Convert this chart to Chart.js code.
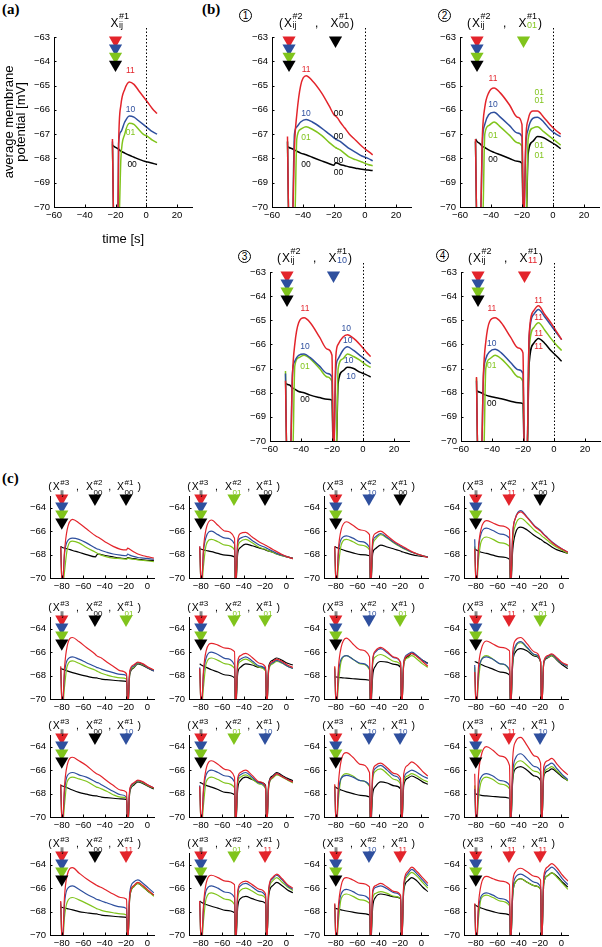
<!DOCTYPE html>
<html>
<head>
<meta charset="utf-8">
<script src="https://cdn.jsdelivr.net/npm/chart.js@4.4.1/dist/chart.umd.min.js"></script>
<style>
  body { margin: 0; width: 602px; height: 947px; position: relative; overflow: hidden; background: #fff; }
  canvas { position: absolute; }
  .pl { position: absolute; font: bold 15px "Liberation Serif", serif; line-height: 15px; }
  .cn { position: absolute; box-sizing: border-box; width: 13px; height: 13px; border: 1px solid #000; border-radius: 50%;
        font: 10px "Liberation Sans", Arial, sans-serif; line-height: 11px; text-align: center; color: #000; }
</style>
</head>
<body>
<div class="pl" style="left:2px;top:2px">(a)</div>
<div class="pl" style="left:202px;top:2px">(b)</div>
<div class="pl" style="left:2px;top:471px">(c)</div>
<div class="cn" style="left:239px;top:9px">1</div>
<div class="cn" style="left:438px;top:9px">2</div>
<div class="cn" style="left:238px;top:250px">3</div>
<div class="cn" style="left:436px;top:249px">4</div>
<script>
const FONT = '"Liberation Sans", Arial, sans-serif'
const ORDER = ["11", "10", "01", "00"]
const COL = { "11": "#e3242b", "10": "#2e4f9e", "01": "#80c41c", "00": "#000000" }

// tick labels
const xTicksAB = [-60, -40, -20, 0, 20]
const yTicksAB = [-70, -69, -68, -67, -66, -65, -64, -63]
const xTicksC = [-80, -60, -40, -20, 0]
const yTicksC = [-70, -68, -66, -64]

// time grids (s)
const tA = [-22, -21, -18.5, -18, -16.5, -14, -11, -8, -5, -2, 1, 4, 7]
const tB = [-50, -49, -47, -45.5, -44, -41.5, -38, -34, -28, -23, -20, -19, -17.5, -16, -13, -10, -6, -2, 2, 5]
const tC = [-81, -79.5, -77.5, -75, -70, -64, -57, -48.5, -47.5, -45.5, -43, -38, -32, -25, -19.5, -18.5, -16.5, -13, -9, -4, 1, 6]

// stimulus times
const stimA = [-20]
const stimB = [-49, -19]
const stimC = [-80, -49, -20]
const bCodes1 = ["00", "01", "10", "11"]   // X#1 in b1..b4
const cCodes2 = ["00", "01", "10", "11"]   // X#2 per column of (c)
const cCodes1 = ["00", "01", "10", "11"]   // X#1 per row of (c)

// marker heights (mV)
const stackYab = [-63.14, -63.47, -63.8, -64.13]
const stackYc = [-63.2, -63.88, -64.56, -65.24]

// series order in every panel: 11 (red), 10 (blue), 01 (green), 00 (black)
const a = [
  [-67.2, -71, -71, -67.5, -65.8, -65.15, -64.85, -64.95, -65.2, -65.45, -65.7, -65.95, -66.15],
  [-67.3, -71, -71, -67.4, -66.9, -66.5, -66.25, -66.3, -66.45, -66.6, -66.75, -66.9, -67.0],
  [-67.4, -71, -71, -71, -68.0, -67.0, -66.55, -66.6, -66.8, -67.0, -67.1, -67.25, -67.35],
  [-67.45, -67.5, -67.6, -67.62, -67.7, -67.78, -67.87, -67.95, -68.03, -68.1, -68.15, -68.2, -68.25],
]

const b1 = [
  [-67.1, -71, -71, -67.5, -66.2, -65.0, -64.6, -64.8, -65.3, -65.85, -66.2, -66.25, -66.35, -66.5, -66.75, -67.0, -67.25, -67.5, -67.7, -67.85],
  [-67.3, -71, -71, -67.0, -66.7, -66.5, -66.4, -66.5, -66.75, -67.0, -67.15, -67.2, -67.25, -67.3, -67.45, -67.6, -67.75, -67.9, -68.0, -68.1],
  [-67.3, -71, -71, -71, -67.2, -66.8, -66.7, -66.8, -67.05, -67.35, -67.5, -67.55, -67.6, -67.65, -67.8, -67.95, -68.05, -68.15, -68.25, -68.3],
  [-67.5, -67.55, -67.6, -67.65, -67.7, -67.78, -67.85, -67.95, -68.1, -68.22, -68.28, -68.18, -68.2, -68.25, -68.3, -68.35, -68.4, -68.45, -68.48, -68.5],
]
const b2 = [
  [-67.2, -71, -71, -67.0, -65.9, -65.3, -65.1, -65.3, -65.8, -66.3, -66.6, -71, -67.2, -66.4, -66.05, -66.05, -66.3, -66.6, -66.85, -67.0],
  [-67.3, -71, -71, -67.3, -66.6, -66.2, -66.1, -66.3, -66.65, -66.95, -67.1, -71, -67.5, -66.8, -66.35, -66.3, -66.5, -66.8, -67.0, -67.1],
  [-67.3, -71, -71, -71, -67.0, -66.65, -66.5, -66.7, -67.05, -67.35, -67.5, -71, -71, -67.2, -66.75, -66.7, -66.9, -67.1, -67.3, -67.45],
  [-67.2, -67.3, -67.4, -67.5, -67.55, -67.65, -67.75, -67.85, -68.0, -68.12, -68.2, -71, -71, -67.8, -67.3, -67.1, -67.15, -67.3, -67.45, -67.6],
]
const b3 = [
  [-67.5, -71, -71, -67.3, -66.0, -65.1, -64.9, -65.1, -65.7, -66.2, -66.45, -71, -66.5, -66.0, -65.7, -65.6, -65.75, -66.0, -66.3, -66.5],
  [-67.2, -71, -71, -67.2, -66.7, -66.45, -66.4, -66.55, -66.9, -67.2, -67.35, -71, -67.0, -66.6, -66.25, -66.1, -66.25, -66.45, -66.65, -66.8],
  [-67.1, -71, -71, -71, -66.9, -66.55, -66.45, -66.6, -67.0, -67.35, -67.55, -71, -71, -67.0, -66.6, -66.4, -66.5, -66.65, -66.85, -66.95],
  [-67.6, -67.65, -67.7, -67.8, -67.85, -67.95, -68.0, -68.1, -68.2, -68.27, -68.3, -71, -71, -67.6, -67.1, -66.95, -67.0, -67.15, -67.25, -67.35],
]
const b4 = [
  [-67.35, -71, -71, -67.2, -65.9, -65.05, -64.9, -65.1, -65.7, -66.15, -66.35, -71, -71, -65.6, -64.6, -64.4, -64.75, -65.1, -65.5, -65.8],
  [-67.5, -71, -71, -67.3, -66.6, -66.3, -66.2, -66.35, -66.75, -67.05, -67.2, -71, -71, -65.7, -64.75, -64.55, -64.85, -65.2, -65.55, -65.8],
  [-67.4, -71, -71, -71, -67.0, -66.6, -66.45, -66.6, -67.0, -67.35, -67.55, -71, -71, -66.2, -65.3, -65.1, -65.4, -65.75, -66.05, -66.25],
  [-67.9, -67.95, -68.0, -68.05, -68.1, -68.15, -68.2, -68.25, -68.35, -68.42, -68.45, -71, -71, -66.8, -65.95, -65.75, -65.95, -66.25, -66.5, -66.7],
]

const c11 = [
  [-67.3, -71, -67.8, -65.9, -65.0, -65.3, -65.8, -66.4, -66.45, -66.55, -66.7, -67.0, -67.3, -67.55, -67.6, -67.45, -67.55, -67.75, -67.95, -68.1, -68.2, -68.3],
  [-67.3, -71, -68.0, -66.9, -66.6, -66.7, -67.0, -67.45, -67.5, -67.55, -67.65, -67.8, -67.95, -68.05, -68.1, -67.95, -68.05, -68.15, -68.25, -68.3, -68.35, -68.4],
  [-67.4, -71, -69.5, -67.6, -66.85, -67.0, -67.4, -67.8, -67.85, -67.95, -68.05, -68.2, -68.3, -68.35, -68.4, -68.3, -68.35, -68.4, -68.45, -68.5, -68.55, -68.6],
  [-67.3, -67.4, -67.45, -67.5, -67.65, -67.8, -68.0, -68.2, -68.05, -67.95, -68.0, -68.1, -68.2, -68.3, -68.35, -68.25, -68.3, -68.35, -68.4, -68.45, -68.5, -68.5],
]
const c12 = [
  [-67.3, -71, -67.5, -65.8, -65.05, -65.5, -66.0, -66.6, -71, -66.8, -66.2, -66.1, -66.5, -66.95, -67.2, -67.25, -67.35, -67.55, -67.75, -68.0, -68.2, -68.35],
  [-67.3, -71, -67.8, -66.5, -66.0, -66.3, -66.6, -67.1, -71, -67.0, -66.6, -66.45, -66.8, -67.2, -67.4, -67.45, -67.55, -67.7, -67.9, -68.05, -68.2, -68.35],
  [-67.4, -71, -69.0, -67.2, -66.7, -66.9, -67.2, -67.6, -71, -67.5, -66.9, -66.7, -67.0, -67.4, -67.55, -67.6, -67.7, -67.8, -67.95, -68.1, -68.2, -68.35],
  [-67.5, -67.55, -67.6, -67.65, -67.75, -67.9, -68.05, -68.2, -71, -67.9, -67.4, -67.1, -67.25, -67.45, -67.6, -67.65, -67.7, -67.8, -67.95, -68.1, -68.2, -68.3],
]
const c13 = [
  [-67.3, -71, -67.5, -65.9, -65.2, -65.5, -65.9, -66.3, -71, -66.7, -66.2, -66.0, -66.4, -66.9, -67.2, -67.25, -67.35, -67.55, -67.75, -67.95, -68.1, -68.25],
  [-67.4, -71, -67.9, -66.7, -66.4, -66.6, -66.9, -67.4, -71, -67.0, -66.5, -66.2, -66.55, -67.0, -67.3, -67.35, -67.45, -67.6, -67.8, -67.95, -68.1, -68.2],
  [-67.5, -71, -69.0, -67.2, -66.7, -66.9, -67.2, -67.6, -71, -67.3, -66.7, -66.3, -66.6, -67.05, -67.35, -67.4, -67.5, -67.65, -67.8, -67.95, -68.1, -68.2],
  [-67.3, -67.4, -67.45, -67.55, -67.7, -67.85, -68.0, -68.1, -71, -67.9, -67.5, -67.2, -67.35, -67.55, -67.7, -67.75, -67.8, -67.9, -68.0, -68.1, -68.15, -68.2],
]
const c14 = [
  [-67.5, -71, -67.4, -65.8, -65.1, -65.3, -65.55, -65.9, -71, -66.2, -64.9, -64.35, -64.85, -65.6, -66.0, -66.1, -66.3, -66.6, -66.95, -67.3, -67.55, -67.8],
  [-66.7, -71, -67.6, -66.2, -65.75, -65.95, -66.25, -66.6, -71, -66.3, -64.9, -64.25, -64.8, -65.55, -65.95, -66.05, -66.25, -66.55, -66.9, -67.25, -67.55, -67.8],
  [-67.3, -71, -68.5, -66.9, -66.5, -66.7, -67.0, -67.3, -71, -66.8, -65.5, -64.9, -65.3, -65.95, -66.3, -66.4, -66.55, -66.8, -67.1, -67.4, -67.65, -67.9],
  [-67.5, -67.6, -67.7, -67.8, -67.9, -68.05, -68.2, -68.4, -71, -67.6, -66.2, -65.65, -65.9, -66.4, -66.7, -66.75, -66.9, -67.1, -67.35, -67.6, -67.75, -67.9],
]
const c21 = [
  [-67.2, -71, -67.4, -65.5, -64.75, -65.1, -65.6, -66.2, -66.3, -66.4, -66.5, -66.85, -67.2, -67.6, -67.85, -71, -67.6, -67.1, -66.85, -67.0, -67.3, -67.5],
  [-67.3, -71, -67.9, -66.7, -66.4, -66.6, -66.9, -67.25, -67.3, -67.35, -67.45, -67.6, -67.75, -67.9, -68.0, -71, -67.7, -67.2, -66.9, -67.05, -67.35, -67.6],
  [-67.4, -71, -69.0, -67.2, -66.75, -66.95, -67.25, -67.55, -67.6, -67.7, -67.8, -67.95, -68.1, -68.2, -68.3, -71, -67.8, -67.3, -66.95, -67.1, -67.35, -67.55],
  [-67.4, -67.45, -67.5, -67.6, -67.75, -67.9, -68.05, -68.2, -68.2, -68.25, -68.3, -68.35, -68.4, -68.45, -68.5, -71, -67.9, -67.35, -67.0, -67.15, -67.4, -67.6],
]
const c22 = [
  [-67.4, -71, -67.6, -65.9, -65.25, -65.4, -65.65, -65.95, -71, -66.8, -66.3, -66.1, -66.45, -66.95, -67.3, -71, -67.3, -66.8, -66.6, -66.8, -67.1, -67.3],
  [-67.3, -71, -67.9, -66.5, -66.0, -66.2, -66.55, -67.1, -71, -67.0, -66.6, -66.4, -66.75, -67.2, -67.5, -71, -67.4, -66.9, -66.7, -66.9, -67.2, -67.4],
  [-67.4, -71, -69.0, -67.0, -66.5, -66.7, -67.0, -67.4, -71, -67.3, -66.8, -66.6, -66.9, -67.3, -67.6, -71, -67.5, -67.0, -66.8, -66.95, -67.2, -67.4],
  [-67.0, -67.1, -67.2, -67.3, -67.5, -67.7, -67.95, -68.2, -71, -67.8, -67.3, -67.0, -67.1, -67.3, -67.4, -71, -67.2, -66.7, -66.5, -66.7, -66.95, -67.1],
]
const c23 = [
  [-67.2, -71, -67.3, -65.6, -64.8, -65.3, -65.8, -66.4, -71, -66.6, -65.9, -65.6, -65.95, -66.45, -66.9, -71, -66.9, -66.3, -66.1, -66.4, -66.8, -67.2],
  [-67.4, -71, -67.8, -66.6, -66.3, -66.6, -66.95, -67.4, -71, -66.7, -66.0, -65.7, -66.05, -66.5, -66.9, -71, -66.8, -66.2, -66.0, -66.3, -66.7, -67.0],
  [-67.3, -71, -68.7, -66.8, -66.3, -66.6, -67.0, -67.5, -71, -67.0, -66.4, -66.2, -66.45, -66.8, -67.1, -71, -67.0, -66.5, -66.3, -66.6, -67.0, -67.3],
  [-68.1, -68.12, -68.15, -68.18, -68.22, -68.27, -68.32, -68.4, -71, -68.0, -67.2, -66.8, -66.85, -67.05, -67.3, -71, -67.0, -66.4, -66.1, -66.35, -66.7, -66.95],
]
const c24 = [
  [-67.7, -71, -67.3, -65.8, -65.05, -65.3, -65.6, -65.9, -71, -66.0, -65.0, -64.75, -65.3, -66.0, -66.8, -71, -66.8, -66.3, -66.15, -66.5, -66.9, -67.1],
  [-67.1, -71, -67.8, -66.7, -66.4, -66.6, -67.0, -67.5, -71, -66.7, -65.5, -65.1, -65.6, -66.2, -66.8, -71, -66.9, -66.4, -66.2, -66.6, -67.0, -67.2],
  [-67.3, -71, -68.5, -66.7, -66.3, -66.6, -67.0, -67.6, -71, -66.9, -65.6, -65.2, -65.65, -66.25, -66.85, -71, -66.9, -66.45, -66.3, -66.65, -67.0, -67.2],
  [-66.8, -66.85, -66.95, -67.05, -67.25, -67.45, -67.7, -67.95, -71, -67.0, -66.0, -65.7, -65.9, -66.35, -66.8, -71, -66.9, -66.5, -66.3, -66.7, -67.1, -67.4],
]
const c31 = [
  [-67.2, -71, -67.4, -65.6, -64.9, -65.2, -65.6, -66.25, -66.3, -66.4, -66.55, -66.9, -67.3, -67.7, -67.9, -71, -67.6, -67.1, -66.85, -67.0, -67.3, -67.5],
  [-67.3, -71, -67.9, -66.5, -66.2, -66.4, -66.6, -67.0, -67.05, -67.1, -67.25, -67.5, -67.8, -68.1, -68.3, -71, -67.7, -67.15, -66.9, -67.05, -67.3, -67.5],
  [-67.4, -71, -69.0, -67.0, -66.6, -66.75, -66.95, -67.4, -67.45, -67.5, -67.6, -67.8, -68.1, -68.3, -68.4, -71, -67.8, -67.2, -66.95, -67.1, -67.35, -67.55],
  [-67.3, -67.35, -67.4, -67.5, -67.7, -67.9, -68.05, -68.2, -68.2, -68.25, -68.3, -68.35, -68.4, -68.45, -68.5, -71, -67.9, -67.3, -67.0, -67.15, -67.4, -67.6],
]
const c32 = [
  [-67.4, -71, -67.6, -65.9, -65.2, -65.5, -65.95, -66.6, -71, -66.7, -66.2, -66.0, -66.45, -67.0, -67.4, -71, -67.2, -66.6, -66.3, -66.55, -66.8, -67.0],
  [-67.3, -71, -67.9, -66.4, -66.0, -66.2, -66.5, -67.0, -71, -66.9, -66.4, -66.2, -66.6, -67.1, -67.5, -71, -67.3, -66.6, -66.3, -66.55, -66.8, -67.0],
  [-67.4, -71, -69.0, -67.0, -66.6, -66.8, -67.1, -67.5, -71, -67.1, -66.6, -66.4, -66.75, -67.2, -67.6, -71, -67.4, -66.7, -66.4, -66.6, -66.85, -67.1],
  [-67.05, -67.1, -67.2, -67.3, -67.45, -67.65, -67.9, -68.1, -71, -67.6, -66.9, -66.6, -66.8, -67.05, -67.3, -71, -67.1, -66.5, -66.2, -66.45, -66.7, -66.9],
]
const c33 = [
  [-67.2, -71, -67.1, -65.2, -64.5, -64.9, -65.5, -66.2, -71, -66.2, -65.6, -65.4, -65.8, -66.3, -66.7, -71, -66.3, -65.6, -65.3, -65.6, -66.1, -66.5],
  [-67.4, -71, -67.9, -66.7, -66.45, -66.6, -66.9, -67.3, -71, -66.5, -65.85, -65.6, -66.0, -66.5, -67.0, -71, -66.8, -66.2, -66.0, -66.2, -66.5, -66.7],
  [-67.3, -71, -68.5, -66.7, -66.3, -66.5, -66.9, -67.4, -71, -66.8, -66.1, -65.9, -66.3, -66.8, -67.2, -71, -67.0, -66.5, -66.3, -66.5, -66.8, -67.0],
  [-67.4, -67.5, -67.6, -67.7, -67.85, -68.0, -68.15, -68.3, -71, -68.0, -67.4, -67.0, -67.1, -67.35, -67.6, -71, -67.3, -66.7, -66.5, -66.7, -67.0, -67.2],
]
const c34 = [
  [-66.3, -71, -66.5, -64.8, -64.0, -64.3, -64.8, -65.6, -71, -65.0, -63.6, -63.2, -63.9, -64.8, -65.4, -71, -65.7, -65.2, -65.0, -65.5, -66.0, -66.4],
  [-67.6, -71, -67.6, -66.6, -66.3, -66.5, -66.9, -67.3, -71, -66.3, -65.0, -64.6, -65.1, -65.7, -66.1, -71, -66.2, -65.6, -65.4, -65.9, -66.4, -66.8],
  [-67.3, -71, -68.5, -67.0, -66.6, -66.8, -67.2, -67.6, -71, -66.7, -65.5, -65.2, -65.6, -66.1, -66.4, -71, -66.4, -65.9, -65.7, -66.1, -66.5, -66.9],
  [-68.0, -68.05, -68.1, -68.15, -68.2, -68.25, -68.3, -68.4, -71, -66.9, -65.9, -65.7, -66.0, -66.5, -66.9, -71, -66.5, -66.1, -65.9, -66.2, -66.6, -66.9],
]
const c41 = [
  [-67.1, -71, -66.8, -64.9, -64.25, -64.7, -65.2, -65.7, -65.75, -65.85, -65.95, -66.2, -66.5, -66.8, -66.95, -71, -66.6, -65.8, -65.5, -65.8, -66.2, -66.6],
  [-67.2, -71, -67.4, -66.1, -65.8, -66.1, -66.5, -66.9, -66.95, -67.0, -67.1, -67.25, -67.45, -67.6, -67.75, -71, -66.4, -65.5, -65.3, -65.6, -66.0, -66.4],
  [-67.4, -71, -68.5, -67.2, -66.8, -67.0, -67.3, -67.7, -67.75, -67.8, -67.9, -68.0, -68.1, -68.2, -68.3, -71, -66.7, -65.9, -65.6, -65.9, -66.3, -66.7],
  [-67.6, -67.65, -67.7, -67.75, -67.85, -68.0, -68.1, -68.2, -68.2, -68.25, -68.3, -68.35, -68.4, -68.45, -68.5, -71, -66.8, -65.9, -65.6, -65.9, -66.3, -66.6],
]
const c42 = [
  [-67.1, -71, -67.5, -65.6, -64.9, -65.1, -65.4, -65.7, -71, -66.3, -65.6, -65.4, -65.7, -66.1, -66.5, -71, -66.0, -65.1, -64.8, -65.2, -65.7, -66.0],
  [-67.2, -71, -67.8, -66.2, -65.8, -66.0, -66.35, -66.8, -71, -66.5, -65.8, -65.6, -65.9, -66.3, -66.7, -71, -66.1, -65.2, -64.9, -65.3, -65.8, -66.1],
  [-67.3, -71, -68.8, -66.9, -66.4, -66.6, -66.95, -67.4, -71, -66.9, -66.2, -66.0, -66.25, -66.6, -66.9, -71, -66.3, -65.4, -65.1, -65.5, -65.9, -66.2],
  [-67.1, -67.2, -67.3, -67.4, -67.55, -67.7, -67.9, -68.1, -71, -67.6, -66.9, -66.7, -66.9, -67.1, -67.3, -71, -66.6, -65.8, -65.5, -65.8, -66.15, -66.4],
]
const c43 = [
  [-67.3, -71, -67.5, -65.8, -65.1, -65.3, -65.6, -65.9, -71, -66.2, -65.8, -65.6, -65.9, -66.3, -66.6, -71, -65.6, -64.6, -64.2, -64.6, -65.1, -65.6],
  [-67.4, -71, -67.9, -66.5, -66.1, -66.3, -66.6, -67.0, -71, -66.4, -65.95, -65.8, -66.05, -66.4, -66.7, -71, -65.8, -64.8, -64.4, -64.8, -65.3, -65.8],
  [-67.4, -71, -68.8, -66.9, -66.5, -66.7, -67.0, -67.3, -71, -66.9, -66.45, -66.3, -66.45, -66.7, -66.9, -71, -66.0, -65.0, -64.65, -65.0, -65.5, -66.0],
  [-67.7, -67.75, -67.8, -67.85, -67.95, -68.05, -68.15, -68.3, -71, -67.6, -66.8, -66.5, -66.6, -66.75, -66.9, -71, -66.2, -65.4, -65.1, -65.4, -65.9, -66.3],
]
const c44 = [
  [-67.3, -71, -67.4, -65.7, -65.0, -65.2, -65.4, -65.7, -71, -65.6, -64.6, -64.3, -64.6, -65.0, -65.3, -71, -65.0, -64.2, -63.9, -64.3, -64.9, -65.4],
  [-67.4, -71, -67.9, -66.7, -66.4, -66.6, -66.9, -67.3, -71, -66.3, -65.1, -64.8, -65.1, -65.5, -65.9, -71, -65.3, -64.5, -64.2, -64.6, -65.2, -65.7],
  [-67.4, -71, -68.6, -66.9, -66.6, -66.8, -67.1, -67.5, -71, -66.6, -65.5, -65.2, -65.5, -65.8, -66.1, -71, -65.6, -64.95, -64.7, -65.1, -65.6, -66.1],
  [-67.4, -67.5, -67.6, -67.7, -67.85, -68.0, -68.15, -68.3, -71, -66.6, -65.5, -65.2, -65.5, -65.8, -66.1, -71, -65.6, -64.95, -64.7, -65.0, -65.5, -65.9],
]

// curve labels [time, mV, code]
const aLabels = [[-10.3, -64.4, "11"], [-10.3, -66.0, "10"], [-10.3, -66.95, "01"], [-9.2, -68.25, "00"]]
const b1Labels = [[-38, -64.35, "11"], [-38, -66.14, "10"], [-38, -67.13, "01"], [-38, -68.25, "00"],
  [-17, -66.14, "00"], [-17, -67.1, "00"], [-17, -68.1, "00"], [-17, -68.6, "00"]]
const b2Labels = [[-38.7, -64.7, "11"], [-38.7, -65.8, "10"], [-38.7, -67.08, "01"], [-38.7, -68.04, "00"],
  [-8.9, -65.29, "01"], [-8.9, -65.62, "01"], [-8.9, -67.49, "01"], [-8.9, -67.9, "01"]]
const b3Labels = [[-37.4, -64.52, "11"], [-37.4, -66.1, "10"], [-37.4, -66.9, "01"], [-37.4, -68.3, "00"],
  [-10.8, -65.35, "10"], [-9.8, -65.83, "10"], [-9.2, -66.69, "10"], [-7.7, -67.32, "10"]]
const b4Labels = [[-40.1, -64.52, "11"], [-40.1, -65.96, "10"], [-40.1, -66.86, "01"], [-40.1, -68.44, "00"],
  [-9.9, -64.18, "11"], [-9.9, -64.89, "11"], [-9.9, -65.55, "11"], [-9.9, -66.1, "11"]]

const fmt = (v) => (v < 0 ? "\u2212" : "") + Math.abs(v)

function drawStims(ctx, chart, p) {
  const big = p.kind !== "c"
  const xs = chart.scales.x
  const T = chart.chartArea.top
  const main = (big ? 12 : 10.5) + "px " + FONT
  const small = (big ? 9 : 8) + "px " + FONT
  const bm = T - (big ? 10 : 6)
  const bsup = T - (big ? 18 : 11)
  const bsub = T - (big ? 9 : 1)
  ctx.textAlign = "left"
  ctx.textBaseline = "alphabetic"
  let prev = null
  p.stims.forEach(([t, sub, sup], i) => {
    const px = xs.getPixelForValue(t)
    const x0 = px - (big ? 5 : 9)
    ctx.font = main
    ctx.fillStyle = "#000"
    if (i === 0 && p.kind !== "a") ctx.fillText("(", x0 - ctx.measureText("(").width - 1, bm)
    if (prev !== null) ctx.fillText(",", (prev + x0) / 2 - 1.5, bm)
    ctx.fillText("X", x0, bm)
    const sx = x0 + ctx.measureText("X").width + 0.5
    ctx.font = small
    ctx.fillText(sup, sx, bsup)
    ctx.fillStyle = sub === "ij" ? "#000" : COL[sub]
    ctx.fillText(sub, sx, bsub)
    prev = sx + Math.max(ctx.measureText(sup).width, ctx.measureText(sub).width)
  })
  if (p.kind !== "a") {
    ctx.font = main
    ctx.fillStyle = "#000"
    ctx.fillText(")", prev + (big ? 1 : 4), bm)
  }
}

function makeChart(p) {
  const big = p.kind !== "c"
  const [L, T, R, B] = p.box
  const yW = p.kind === "a" ? 54 : 24
  const padT = big ? 32 : 20
  const xH = p.kind === "a" ? 40 : 20
  const padR = 6
  const W = yW + (R - L) + padR
  const H = padT + (B - T) + xH
  const cv = document.createElement("canvas")
  cv.width = W
  cv.height = H
  Object.assign(cv.style, { left: L - yW + "px", top: T - padT + "px", width: W + "px", height: H + "px" })
  document.body.appendChild(cv)

  // stimulus triangles
  const stackY = big ? stackYab : stackYc
  const mk = []
  const mkCol = []
  p.stims.forEach(([t, sub]) => {
    if (sub === "ij") {
      ORDER.forEach((c, i) => { mk.push({ x: t, y: stackY[i] }); mkCol.push(COL[c]) })
    } else {
      mk.push({ x: t, y: stackY[0] })
      mkCol.push(COL[sub])
    }
  })

  const datasets = [{
    data: mk, showLine: false, pointStyle: "triangle", pointRotation: 180,
    pointRadius: 7.6, pointBackgroundColor: mkCol, pointBorderColor: mkCol, pointBorderWidth: 0, clip: false,
  }]
  ORDER.forEach((c, i) => {
    datasets.push({
      data: p.t.map((x, j) => ({ x, y: p.s[i][j] })),
      borderColor: COL[c], borderWidth: big ? 1.5 : 1.2, pointRadius: 0,
      cubicInterpolationMode: "monotone", fill: false,
    })
  })

  const xt = big ? xTicksAB : xTicksC
  const yt = big ? yTicksAB : yTicksC
  const tickFont = { family: FONT, size: 9.5 }

  const annot = {
    id: "annot",
    afterDraw(chart) {
      const { ctx, chartArea: ca, scales: { x, y } } = chart
      ctx.save()
      ctx.strokeStyle = "#000"
      ctx.lineWidth = 1
      ctx.beginPath()
      xt.forEach((v) => {
        const px = Math.round(x.getPixelForValue(v)) + 0.5
        ctx.moveTo(px, ca.bottom); ctx.lineTo(px, ca.bottom - 2.5)
      })
      yt.forEach((v) => {
        const py = Math.round(y.getPixelForValue(v)) + 0.5
        ctx.moveTo(ca.left, py); ctx.lineTo(ca.left + 2.5, py)
      })
      ctx.stroke()
      if (big) {
        const zx = Math.round(x.getPixelForValue(0)) + 0.5
        ctx.setLineDash([1.5, 2])
        ctx.beginPath()
        ctx.moveTo(zx, ca.top - 9); ctx.lineTo(zx, ca.bottom)
        ctx.stroke()
        ctx.setLineDash([])
        ctx.font = "8.5px " + FONT
        ctx.textAlign = "center"
        ctx.textBaseline = "middle"
        p.labels.forEach(([t, v, code]) => {
          ctx.fillStyle = COL[code]
          ctx.fillText(code, x.getPixelForValue(t), y.getPixelForValue(v))
        })
      }
      drawStims(ctx, chart, p)
      ctx.restore()
    },
  }

  new Chart(cv, {
    type: "line",
    data: { datasets },
    options: {
      responsive: false,
      animation: false,
      events: [],
      layout: { padding: { left: 0, top: padT, right: padR, bottom: 0 } },
      plugins: { legend: { display: false }, tooltip: { enabled: false } },
      scales: {
        x: {
          type: "linear", min: p.xr[0], max: p.xr[1],
          afterBuildTicks: (s) => { s.ticks = xt.map((v) => ({ value: v })) },
          afterFit: (s) => { s.height = xH },
          grid: { display: false, drawTicks: false },
          border: { display: true, color: "#000", width: 1 },
          ticks: { color: "#000", font: tickFont, padding: 3, maxRotation: 0, autoSkip: false, callback: fmt },
          title: {
            display: p.kind === "a", text: "time [s]", color: "#000",
            font: { family: FONT, size: 13, lineHeight: 1.2 }, padding: 0,
          },
        },
        y: {
          type: "linear", min: -70, max: -63,
          afterBuildTicks: (s) => { s.ticks = yt.map((v) => ({ value: v })) },
          afterFit: (s) => { s.width = yW },
          grid: { display: false, drawTicks: false },
          border: { display: true, color: "#000", width: 1 },
          ticks: { color: "#000", font: tickFont, padding: 4, autoSkip: false, callback: fmt },
          title: {
            display: p.kind === "a", text: ["average membrane", "potential [mV]"], color: "#000",
            font: { family: FONT, size: 13, lineHeight: 0.9 }, padding: { top: 4, bottom: 0 },
          },
        },
      },
    },
    plugins: [annot],
  })
}

const panels = [
  { kind: "a", box: [54, 37, 194, 207], xr: [-60, 30], t: tA, s: a, labels: aLabels,
    stims: [[stimA[0], "ij", "#1"]] },
  { kind: "b", box: [272, 37, 413, 207], xr: [-60, 30], t: tB, s: b1, labels: b1Labels,
    stims: [[stimB[0], "ij", "#2"], [stimB[1], bCodes1[0], "#1"]] },
  { kind: "b", box: [460, 37, 601, 207], xr: [-60, 30], t: tB, s: b2, labels: b2Labels,
    stims: [[stimB[0], "ij", "#2"], [stimB[1], bCodes1[1], "#1"]] },
  { kind: "b", box: [270, 272, 411, 441], xr: [-60, 30], t: tB, s: b3, labels: b3Labels,
    stims: [[stimB[0], "ij", "#2"], [stimB[1], bCodes1[2], "#1"]] },
  { kind: "b", box: [461, 272, 602, 441], xr: [-60, 30], t: tB, s: b4, labels: b4Labels,
    stims: [[stimB[0], "ij", "#2"], [stimB[1], bCodes1[3], "#1"]] },
]

const cSeries = [[c11, c12, c13, c14], [c21, c22, c23, c24], [c31, c32, c33, c34], [c41, c42, c43, c44]]
const cRowT = [496, 617, 735, 853]
const cColL = [50, 189, 324, 464]
cSeries.forEach((row, r) => {
  row.forEach((s, c) => {
    panels.push({
      kind: "c", box: [cColL[c], cRowT[r], cColL[c] + 106, cRowT[r] + 82], xr: [-91, 6.5], t: tC, s,
      stims: [[stimC[0], "ij", "#3"], [stimC[1], cCodes2[c], "#2"], [stimC[2], cCodes1[r], "#1"]],
    })
  })
})

panels.forEach(makeChart)
</script>
</body>
</html>
